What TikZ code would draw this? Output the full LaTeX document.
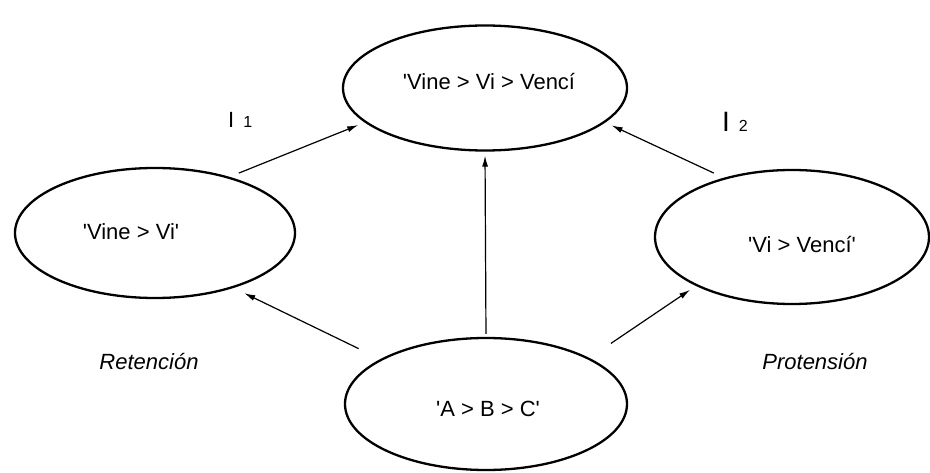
\documentclass[tikz,border=0pt]{standalone}
\usepackage{fontspec}
\setmainfont{Liberation Sans}
\usetikzlibrary{shapes.geometric, arrows.meta}

\newcommand{\q}{\textquotesingle}

\begin{document}
\begin{tikzpicture}[x=1pt, y=-1pt,
    main/.style = {draw, ellipse, line width=2.3pt, inner sep=0pt},
    txt/.style = {inner sep=0pt, font=\fontsize{22}{26}\selectfont},
    arr/.style = {-{Latex[length=11pt, width=6pt]}, line width=1.2pt}]
    \useasboundingbox (0,0) rectangle (930,473);

    % ellipses
    \node[main, minimum width=284pt, minimum height=125pt] (1) at (485,88) {};
    \node[main, minimum width=280pt, minimum height=130pt] (2) at (155,233) {};
    \node[main, minimum width=274pt, minimum height=134pt] (3) at (792,237) {};
    \node[main, minimum width=282pt, minimum height=132pt] (4) at (486,404) {};

    % texts
    \node[txt] (t1) at (489,82) {\q Vine > Vi > Vencí};
    \node[txt] (t2) at (131,232) {\q Vine > Vi\q};
    \node[txt] (t3) at (802,245) {\q Vi > Vencí\q};
    \node[txt] (t4) at (488,409) {\q A > B > C\q};

    \node[txt, anchor=base west] (i1) at (228,128)
        {I\hspace{9pt}{\fontsize{16}{19}\selectfont 1}};
    \node[txt, anchor=base west] (i2) at (722,132)
        {{\fontsize{28}{32}\selectfont I}\hspace{9pt}{\fontsize{16}{19}\selectfont 2}};
    \node[txt, font=\fontsize{22}{26}\selectfont\itshape] (ret) at (149,362) {Retención};
    \node[txt, font=\fontsize{22}{26}\selectfont\itshape] (pro) at (815,362) {Protensión};

    % arrows
    \draw[arr, shorten <=10pt, shorten >=7pt] (2.37) -- (1.196);
    \draw[arr, shorten <=11pt, shorten >=7pt] (3.139) -- (1.-16);
    \draw[arr, shorten <=24pt, shorten >=12pt] (4.157) -- (2.-35);
    \draw[arr, shorten <=26pt, shorten >=7pt] (4.24) -- (3.207);
    \draw[arr, shorten <=3pt, shorten >=4pt] (4.north) -- (1.south);
\end{tikzpicture}
\end{document}
